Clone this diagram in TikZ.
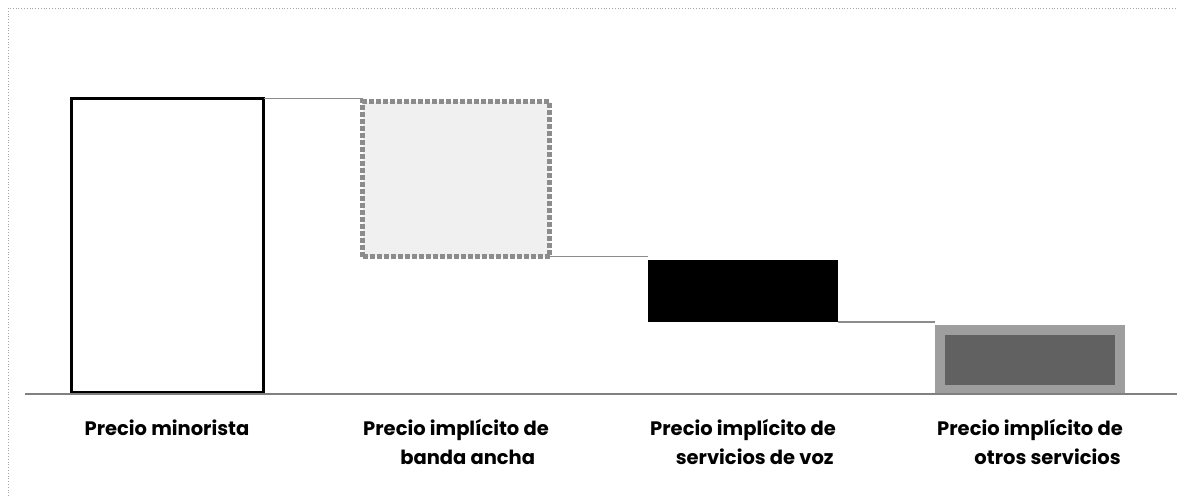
\documentclass[tikz,border=0pt]{standalone}
\usepackage{fontspec}
\setmainfont{Poppins}
\begin{document}
\begin{tikzpicture}[x=1pt,y=-1pt,
  barbox/.style={rectangle,inner sep=0pt,outer sep=0pt},
  lbl/.style={anchor=base,align=center,inner sep=0pt,font=\fontsize{19.5}{29}\selectfont\bfseries},
  link/.style={draw=black!45,line width=1.2pt},
  frame/.style={draw=black!35,line width=0.8pt,dotted}]
\useasboundingbox (0,0) rectangle (1177,496);
% scan frame
\coordinate (fbl) at (8,496);
\coordinate (ftl) at (8,8);
\coordinate (ftr) at (1177,8);
\draw[frame] (fbl) -- (ftl) -- (ftr);
% bars
\node[barbox,draw=black,line width=3.5pt,fill=white,minimum width=192pt,minimum height=294pt] (b1) at (167.5,245.5) {};
\node[barbox,fill=black!6,draw=black!45,line width=5pt,dotted,minimum width=187pt,minimum height=155pt] (b2) at (456,179) {};
\node[barbox,fill=black,minimum width=190pt,minimum height=62pt] (b3) at (743,291) {};
\node[barbox,fill=black!38,minimum width=190pt,minimum height=69pt] (b4) at (1030,359.5) {};
\node[barbox,fill=black!62,minimum width=170pt,minimum height=50pt] (b4in) at (1030,359.5) {};
% connectors
\draw[link] (b1.north east) -- (b1.north east -| b2.west);
\draw[link] (b2.south east) -- (b2.south east -| b3.west);
\draw[link] (b3.south east) -- (b3.south east -| b4.west);
% baseline
\coordinate (axl) at (25,394);
\coordinate (axr) at (1177,394);
\draw[draw=black!50,line width=2pt] (axl) -- (axr);
% labels
\node[lbl] (l1) at (167,435) {Precio minorista};
\node[lbl] (l2) at (456,464) {Precio implícito de\\\hspace*{1.2em}banda ancha};
\node[lbl] (l3) at (743,464) {Precio implícito de\\\hspace*{1.2em}servicios de voz};
\node[lbl] (l4) at (1030,464) {Precio implícito de\\\hspace*{1.8em}otros servicios};
\end{tikzpicture}
\end{document}
